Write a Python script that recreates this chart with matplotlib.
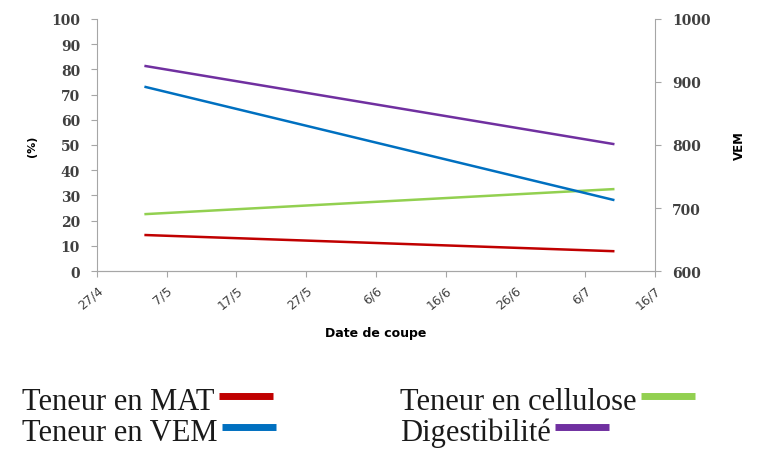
import pandas as pd
import matplotlib
matplotlib.use("Agg")
import matplotlib.pyplot as plt
import matplotlib.dates as mdates
from matplotlib.lines import Line2D

# cutting dates (first and last cut)
dates = pd.to_datetime(["2010-05-04", "2010-07-10"])

# percentage series (left axis)
mat = [14.3, 7.9]
cellulose = [22.6, 32.5]
digestibilite = [81.3, 50.4]

# energy value (right axis)
vem = [892, 713]

tick_dates = pd.date_range("2010-04-27", "2010-07-16", freq="10D")

c_mat = "#C00000"
c_cel = "#92D050"
c_vem = "#0070C0"
c_dig = "#7030A0"
grey = "#A6A6A6"

W, H = 768, 452
fig = plt.figure(figsize=(W / 100, H / 100), dpi=100)
ax1 = fig.add_axes([0.126, 0.398, 0.727, 0.558])

ax1.plot(dates, mat, color=c_mat, lw=1.8)
ax1.plot(dates, cellulose, color=c_cel, lw=1.8)
ax1.plot(dates, digestibilite, color=c_dig, lw=1.8)
ax1.set_ylim(0, 100)
ax1.set_yticks(range(0, 101, 10))
ax1.set_xlim(tick_dates[0], tick_dates[-1])
ax1.set_xticks(tick_dates)
ax1.xaxis.set_major_formatter(mdates.DateFormatter("%-d/%-m"))

ax2 = ax1.twinx()
ax2.plot(dates, vem, color=c_vem, lw=1.8)
ax2.set_ylim(600, 1000)
ax2.set_yticks(range(600, 1001, 100))

for ax in (ax1, ax2):
    ax.spines["top"].set_visible(False)
    for s in ax.spines.values():
        s.set_color(grey)
    ax.tick_params(colors=grey, length=4, width=0.8, direction="out")
ax2.spines["left"].set_visible(False)
ax1.spines["right"].set_visible(False)
ax1.tick_params(axis="y", pad=8)
ax2.tick_params(axis="y", pad=8)
ax1.tick_params(axis="x", pad=5)

for lab in ax1.get_yticklabels() + ax2.get_yticklabels():
    lab.set_fontfamily("DejaVu Serif")
    lab.set_fontweight("bold")
    lab.set_fontsize(10)
    lab.set_color("#404040")
for lab in ax1.get_xticklabels():
    lab.set_rotation(40)
    lab.set_ha("right")
    lab.set_rotation_mode("anchor")
    lab.set_fontsize(9)
    lab.set_color("#404040")

ax1.set_ylabel("(%)", fontsize=8, fontweight="bold", labelpad=10)
ax2.set_ylabel("VEM", fontsize=8.5, fontweight="bold", labelpad=16)
ax1.set_xlabel("Date de coupe", fontsize=9, fontweight="bold", labelpad=10)

# legend below the chart: label first, colour bar right after it
entries = [
    ("Teneur en MAT", c_mat, 22, 410),
    ("Teneur en VEM", c_vem, 22, 441),
    ("Teneur en cellulose", c_cel, 400, 410),
    ("Digestibilité", c_dig, 400, 441),
]
fig.canvas.draw()
renderer = fig.canvas.get_renderer()
for label, color, x0, base in entries:
    t = fig.text(x0 / W, 1 - base / H, label, family="Liberation Serif",
                 fontsize=22, ha="left", va="baseline", color="#1a1a1a")
    bb = t.get_window_extent(renderer)
    x1 = bb.x1 + 4
    y = (1 - base / H) + 13 / H
    fig.add_artist(Line2D([x1 / W, (x1 + 54) / W], [y, y], color=color,
                          lw=5, solid_capstyle="butt",
                          transform=fig.transFigure))

fig.savefig("out.png", dpi=100)
